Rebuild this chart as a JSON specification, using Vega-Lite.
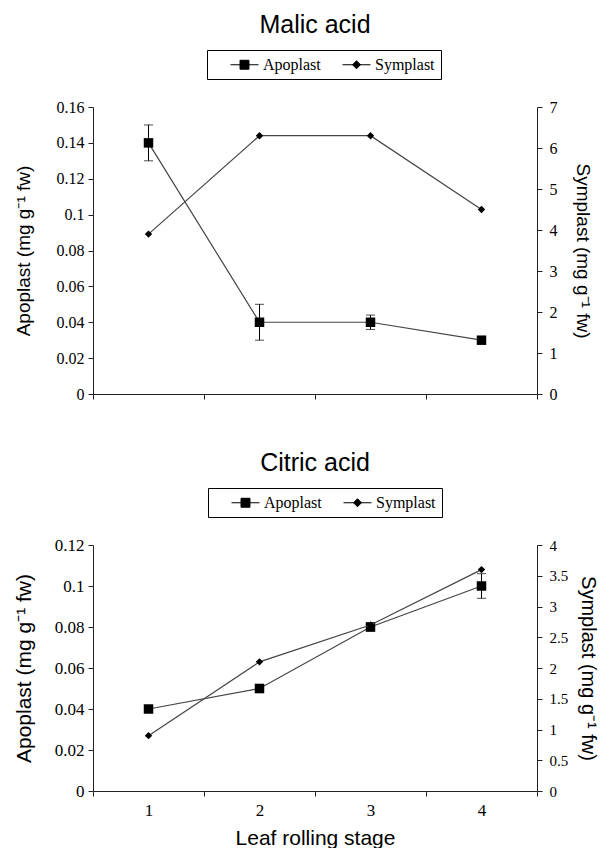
{
  "$schema": "https://vega.github.io/schema/vega-lite/v6.json",
  "background": "white",
  "padding": {"left": 13, "top": 12, "right": 5, "bottom": 0},
  "spacing": 151,
  "bounds": "flush",
  "config": {
    "view": {"stroke": null},
    "axis": {"labelFont": "Liberation Serif", "labelFontSize": 16, "labelColor": "black", "titleFont": "Liberation Sans", "titleFontSize": 19, "titleFontWeight": "normal", "titleColor": "black", "domainColor": "#222222", "tickColor": "#222222", "grid": false, "tickSize": 5, "labelOverlap": false},
    "title": {"font": "Liberation Sans", "fontSize": 25, "fontWeight": "normal", "color": "black", "anchor": "middle"},
    "legend": {"orient": "none", "legendX": 114, "legendY": -57, "direction": "horizontal", "strokeColor": "black", "fillColor": "white", "padding": 6, "labelFont": "Liberation Serif", "labelFontSize": 16, "labelColor": "black", "symbolSize": 256, "symbolOffset": 23, "columnPadding": 4, "labelOffset": 10, "symbolStrokeColor": "black", "symbolFillColor": "black", "symbolStrokeWidth": 1, "title": null}
  },
  "datasets": {
    "malic": [
      {"stage": "1", "series": "Apoplast", "value": 0.14, "lo": 0.13, "hi": 0.15},
      {"stage": "2", "series": "Apoplast", "value": 0.04, "lo": 0.03, "hi": 0.05},
      {"stage": "3", "series": "Apoplast", "value": 0.04, "lo": 0.036, "hi": 0.044},
      {"stage": "4", "series": "Apoplast", "value": 0.03, "lo": 0.028, "hi": 0.032},
      {"stage": "1", "series": "Symplast", "value": 3.9},
      {"stage": "2", "series": "Symplast", "value": 6.3},
      {"stage": "3", "series": "Symplast", "value": 6.3},
      {"stage": "4", "series": "Symplast", "value": 4.5}
    ],
    "citric": [
      {"stage": "1", "series": "Apoplast", "value": 0.04, "lo": 0.039, "hi": 0.041},
      {"stage": "2", "series": "Apoplast", "value": 0.05, "lo": 0.048, "hi": 0.052},
      {"stage": "3", "series": "Apoplast", "value": 0.08, "lo": 0.078, "hi": 0.082},
      {"stage": "4", "series": "Apoplast", "value": 0.1, "lo": 0.094, "hi": 0.106},
      {"stage": "1", "series": "Symplast", "value": 0.9},
      {"stage": "2", "series": "Symplast", "value": 2.1},
      {"stage": "3", "series": "Symplast", "value": 2.7},
      {"stage": "4", "series": "Symplast", "value": 3.6}
    ]
  },
  "resolve": {"scale": {"x": "independent", "color": "independent"}, "legend": {"color": "independent"}},
  "vconcat": [
    {
      "width": 444,
      "height": 287,
      "title": {"text": "Malic acid", "offset": 12},
      "data": {"name": "malic"},
      "encoding": {
        "x": {"field": "stage", "type": "ordinal", "scale": {"type": "band", "paddingInner": 0, "paddingOuter": 0}, "axis": {"tickBand": "extent", "labels": false, "title": null}}
      },
      "layer": [
        {
          "transform": [{"filter": "datum.series === 'Apoplast'"}],
          "encoding": {
            "y": {"field": "value", "type": "quantitative", "scale": {"domain": [0, 0.16]}, "axis": {"orient": "left", "values": [0, 0.02, 0.04, 0.06, 0.08, 0.1, 0.12, 0.14, 0.16], "format": ".2~f", "labelPadding": 4, "title": "Apoplast (mg g⁻¹ fw)", "titlePadding": 23}}
          },
          "layer": [
            {"mark": {"type": "line", "color": "#444444", "strokeWidth": 1.2}},
            {"mark": {"type": "rule", "color": "black", "strokeWidth": 1}, "encoding": {"y": {"field": "lo", "type": "quantitative", "axis": {"orient": "left", "values": [0, 0.02, 0.04, 0.06, 0.08, 0.1, 0.12, 0.14, 0.16], "format": ".2~f", "labelPadding": 4, "title": "Apoplast (mg g⁻¹ fw)", "titlePadding": 23}}, "y2": {"field": "hi"}}},
            {"mark": {"type": "tick", "color": "black", "size": 9, "thickness": 1}, "encoding": {"y": {"field": "lo", "type": "quantitative", "axis": {"orient": "left", "values": [0, 0.02, 0.04, 0.06, 0.08, 0.1, 0.12, 0.14, 0.16], "format": ".2~f", "labelPadding": 4, "title": "Apoplast (mg g⁻¹ fw)", "titlePadding": 23}}}},
            {"mark": {"type": "tick", "color": "black", "size": 9, "thickness": 1}, "encoding": {"y": {"field": "hi", "type": "quantitative", "axis": {"orient": "left", "values": [0, 0.02, 0.04, 0.06, 0.08, 0.1, 0.12, 0.14, 0.16], "format": ".2~f", "labelPadding": 4, "title": "Apoplast (mg g⁻¹ fw)", "titlePadding": 23}}}},
            {"mark": {"type": "point", "shape": "square", "filled": true, "opacity": 1, "size": 90}, "encoding": {"color": {"field": "series", "type": "nominal", "scale": {"domain": ["Apoplast", "Symplast"], "range": ["black", "black"]}, "legend": {"labelExpr": "datum.value === 'Symplast' ? datum.label + '\u00a0\u00a0' : datum.label", "symbolType": {"expr": "datum.value === 'Apoplast' ? 'M-1.75,0H1.75M-0.56,-0.56H0.56V0.56H-0.56Z' : 'M-1.75,0H1.75M0,-0.5L0.5,0L0,0.5L-0.5,0Z'"}}}}}
          ]
        },
        {
          "transform": [{"filter": "datum.series === 'Symplast'"}],
          "encoding": {
            "y": {"field": "value", "type": "quantitative", "scale": {"domain": [0, 7]}, "axis": {"orient": "right", "values": [0, 1, 2, 3, 4, 5, 6, 7], "format": "d", "labelPadding": 7, "title": "Symplast  (mg g⁻¹ fw)", "titlePadding": 15}}
          },
          "layer": [
            {"mark": {"type": "line", "color": "#444444", "strokeWidth": 1.2}},
            {"mark": {"type": "point", "shape": "diamond", "filled": true, "opacity": 1, "size": 55}, "encoding": {"color": {"field": "series", "type": "nominal"}}}
          ]
        }
      ],
      "resolve": {"scale": {"y": "independent"}}
    },
    {
      "width": 444,
      "height": 246,
      "title": {"text": "Citric acid", "offset": 12},
      "data": {"name": "citric"},
      "encoding": {
        "x": {"field": "stage", "type": "ordinal", "scale": {"type": "band", "paddingInner": 0, "paddingOuter": 0}, "axis": {"tickBand": "extent", "labelAngle": 0, "labelFontSize": 17, "labelPadding": 6, "title": "Leaf rolling stage", "titleFontSize": 21, "titlePadding": 9}}
      },
      "layer": [
        {
          "transform": [{"filter": "datum.series === 'Apoplast'"}],
          "encoding": {
            "y": {"field": "value", "type": "quantitative", "scale": {"domain": [0, 0.12]}, "axis": {"orient": "left", "values": [0, 0.02, 0.04, 0.06, 0.08, 0.1, 0.12], "format": ".2~f", "labelFontSize": 17, "labelPadding": 4, "title": "Apoplast (mg g⁻¹ fw)", "titleFontSize": 21, "titlePadding": 20}}
          },
          "layer": [
            {"mark": {"type": "line", "color": "#444444", "strokeWidth": 1.2}},
            {"mark": {"type": "rule", "color": "black", "strokeWidth": 1}, "encoding": {"y": {"field": "lo", "type": "quantitative", "axis": {"orient": "left", "values": [0, 0.02, 0.04, 0.06, 0.08, 0.1, 0.12], "format": ".2~f", "labelFontSize": 17, "labelPadding": 4, "title": "Apoplast (mg g⁻¹ fw)", "titleFontSize": 21, "titlePadding": 20}}, "y2": {"field": "hi"}}},
            {"mark": {"type": "tick", "color": "black", "size": 9, "thickness": 1}, "encoding": {"y": {"field": "lo", "type": "quantitative", "axis": {"orient": "left", "values": [0, 0.02, 0.04, 0.06, 0.08, 0.1, 0.12], "format": ".2~f", "labelFontSize": 17, "labelPadding": 4, "title": "Apoplast (mg g⁻¹ fw)", "titleFontSize": 21, "titlePadding": 20}}}},
            {"mark": {"type": "tick", "color": "black", "size": 9, "thickness": 1}, "encoding": {"y": {"field": "hi", "type": "quantitative", "axis": {"orient": "left", "values": [0, 0.02, 0.04, 0.06, 0.08, 0.1, 0.12], "format": ".2~f", "labelFontSize": 17, "labelPadding": 4, "title": "Apoplast (mg g⁻¹ fw)", "titleFontSize": 21, "titlePadding": 20}}}},
            {"mark": {"type": "point", "shape": "square", "filled": true, "opacity": 1, "size": 90}, "encoding": {"color": {"field": "series", "type": "nominal", "scale": {"domain": ["Apoplast", "Symplast"], "range": ["black", "black"]}, "legend": {"legendX": 115, "labelExpr": "datum.value === 'Symplast' ? datum.label + '\u00a0\u00a0' : datum.label", "symbolType": {"expr": "datum.value === 'Apoplast' ? 'M-1.75,0H1.75M-0.56,-0.56H0.56V0.56H-0.56Z' : 'M-1.75,0H1.75M0,-0.5L0.5,0L0,0.5L-0.5,0Z'"}}}}}
          ]
        },
        {
          "transform": [{"filter": "datum.series === 'Symplast'"}],
          "encoding": {
            "y": {"field": "value", "type": "quantitative", "scale": {"domain": [0, 4]}, "axis": {"orient": "right", "values": [0, 0.5, 1, 1.5, 2, 2.5, 3, 3.5, 4], "format": ".1~f", "labelFontSize": 15, "labelPadding": 7, "title": "Symplast  (mg g⁻¹ fw)", "titleFontSize": 20, "titlePadding": 10}}
          },
          "layer": [
            {"mark": {"type": "line", "color": "#444444", "strokeWidth": 1.2}},
            {"mark": {"type": "point", "shape": "diamond", "filled": true, "opacity": 1, "size": 55}, "encoding": {"color": {"field": "series", "type": "nominal"}}}
          ]
        }
      ],
      "resolve": {"scale": {"y": "independent"}}
    }
  ]
}
